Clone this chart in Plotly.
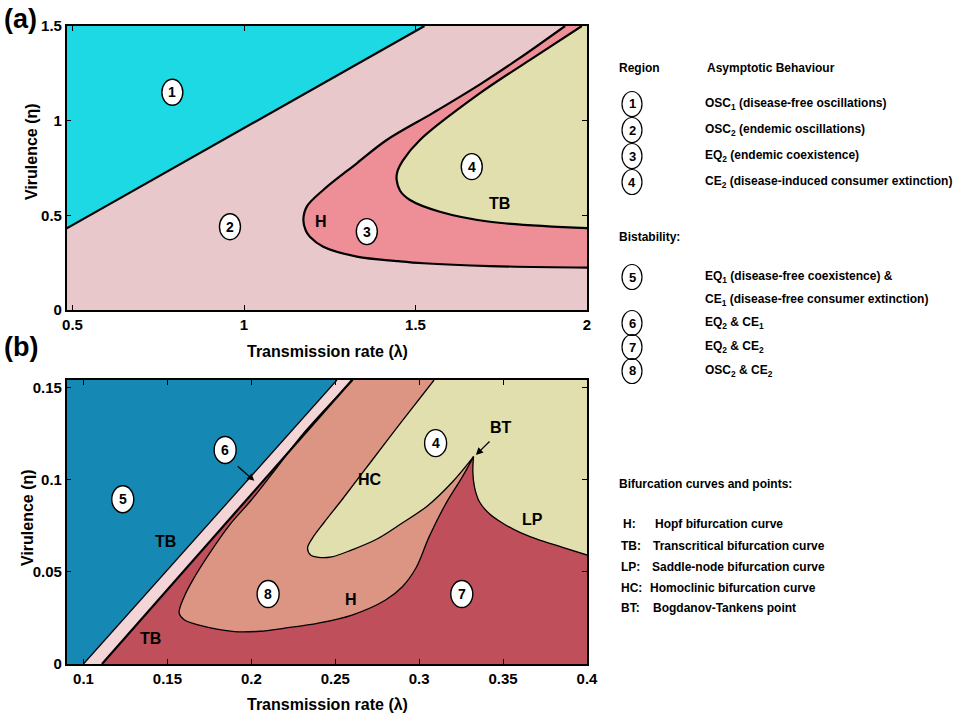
import plotly.graph_objects as go

W, H = 960, 720
SANS = "Liberation Sans, Arial, Helvetica, sans-serif"

# ---------------- panel (a) data ----------------
a_x_range = [0.483, 2.0]
a_y_range = [0.0, 1.5]
a_xticks = [0.5, 1, 1.5, 2]
a_xtick_text = ["0.5", "1", "1.5", "2"]
a_yticks = [0, 0.5, 1, 1.5]
a_ytick_text = ["0", "0.5", "1", "1.5"]

# TB line separating region 1 and 2
a_tb1_lam = [0.483, 1.526]
a_tb1_eta = [0.431, 1.5]
# Hopf curve (outer C-shaped curve)
a_hopf_lam = [1.936, 1.80, 1.688, 1.55, 1.416, 1.329, 1.231, 1.183, 1.173, 1.180,
              1.192, 1.231, 1.329, 1.45, 1.523, 1.717, 2.0]
a_hopf_eta = [1.5, 1.326, 1.192, 1.040, 0.898, 0.775, 0.634, 0.546, 0.475, 0.42,
              0.387, 0.334, 0.282, 0.258, 0.247, 0.232, 0.224]
# TB curve (inner curve)
a_tb2_lam = [1.985, 1.834, 1.688, 1.513, 1.464, 1.447, 1.445, 1.455, 1.484, 1.571, 1.717, 2.0]
a_tb2_eta = [1.5, 1.321, 1.145, 0.898, 0.792, 0.73, 0.687, 0.63, 0.581, 0.519, 0.466, 0.432]

a_region_ids = ["1", "2", "3", "4"]
a_region_lam = [0.791, 0.959, 1.358, 1.664]
a_region_eta = [1.150, 0.440, 0.414, 0.757]
a_curve_labels = ["H", "TB"]
a_curve_label_lam = [1.224, 1.744]
a_curve_label_eta = [0.466, 0.560]

# ---------------- panel (b) data ----------------
b_x_range = [0.09, 0.4]
b_y_range = [0.0, 0.1543]
b_xticks = [0.1, 0.15, 0.2, 0.25, 0.3, 0.35, 0.4]
b_xtick_text = ["0.1", "0.15", "0.2", "0.25", "0.3", "0.35", "0.4"]
b_yticks = [0, 0.05, 0.1, 0.15]
b_ytick_text = ["0", "0.05", "0.1", "0.15"]

b_tb1_lam = [0.100, 0.251]
b_tb1_eta = [0.0, 0.1543]
b_tb2_lam = [0.111, 0.260]
b_tb2_eta = [0.0, 0.1543]
# Hopf curve: from top (along TB) down to nose, then lower branch to BT point
b_hopf_lam = [0.2605, 0.232, 0.215, 0.200, 0.187, 0.175, 0.166, 0.160, 0.157,
              0.160, 0.170, 0.190, 0.205, 0.220, 0.240, 0.260, 0.280, 0.290,
              0.298, 0.306, 0.316, 0.3258, 0.3324]
b_hopf_eta = [0.1543, 0.1263, 0.1065, 0.0891, 0.0755, 0.060, 0.047, 0.0366, 0.0276,
              0.0240, 0.0208, 0.0176, 0.0178, 0.0195, 0.0222, 0.0266, 0.0348, 0.0420,
              0.0520, 0.0692, 0.0873, 0.1018, 0.1127]
# Homoclinic curve: from top down to tip, then up to BT
b_hc_lam = [0.3089, 0.2899, 0.2707, 0.2539, 0.2431, 0.2365, 0.2335, 0.2353, 0.2401,
            0.2479, 0.2599, 0.2749, 0.2899, 0.3049, 0.3198, 0.3324]
b_hc_eta = [0.1543, 0.1321, 0.1092, 0.0891, 0.0766, 0.0685, 0.0630, 0.0592, 0.0579,
            0.0582, 0.0620, 0.0679, 0.0766, 0.0859, 0.0989, 0.1127]
# Saddle-node (LP) curve: from BT to the right edge
b_lp_lam = [0.3324, 0.3320, 0.3330, 0.3360, 0.3420, 0.3498, 0.3600, 0.3698, 0.3850, 0.400]
b_lp_eta = [0.1127, 0.1040, 0.0960, 0.0880, 0.0815, 0.0765, 0.0715, 0.0680, 0.0635, 0.0592]

b_region_ids = ["5", "6", "4", "8", "7"]
b_region_lam = [0.1234, 0.1844, 0.3098, 0.2100, 0.3254]
b_region_eta = [0.0895, 0.1163, 0.1200, 0.0380, 0.0380]
b_curve_labels = ["TB", "TB", "HC", "H", "LP", "BT"]
b_curve_label_lam = [0.149, 0.140, 0.2709, 0.2595, 0.3678, 0.3486]
b_curve_label_eta = [0.0665, 0.0140, 0.1000, 0.0351, 0.0783, 0.1283]
# arrows: tail -> head
b_arrow_tail_lam = [0.1910, 0.3428]
b_arrow_tail_eta = [0.1082, 0.1217]
b_arrow_head_lam = [0.2018, 0.3338]
b_arrow_head_eta = [0.0995, 0.1136]

# ---------------- legend text ----------------
legend_regions = ["1", "2", "3", "4"]
legend_region_text = [
    "OSC<sub>1</sub> (disease-free oscillations)",
    "OSC<sub>2</sub> (endemic oscillations)",
    "EQ<sub>2</sub> (endemic coexistence)",
    "CE<sub>2</sub> (disease-induced consumer extinction)",
]
legend_bistab = ["5", "", "6", "7", "8"]
legend_bistab_text = [
    "EQ<sub>1</sub> (disease-free coexistence) &",
    "CE<sub>1</sub> (disease-free consumer extinction)",
    "EQ<sub>2</sub> & CE<sub>1</sub>",
    "EQ<sub>2</sub> & CE<sub>2</sub>",
    "OSC<sub>2</sub> & CE<sub>2</sub>",
]
bif_keys = ["H:", "TB:", "LP:", "HC:", "BT:"]
bif_text = ["Hopf bifurcation curve", "Transcritical bifurcation curve",
            "Saddle-node bifurcation curve", "Homoclinic bifurcation curve",
            "Bogdanov-Tankens point"]

# ---------------- colours ----------------
C_CYAN = "#1CD9E4"
C_PINK2 = "#E8C8CB"
C_R3 = "#EE8E97"
C_KHAKI = "#E0DFAD"
C_BLUE = "#1589B3"
C_STRIP = "#F3D5D8"
C_RED = "#BF4F5A"
C_SALMON = "#DC9483"

fig = go.Figure()


def poly(x, y, color, xa, ya):
    fig.add_trace(go.Scatter(x=x, y=y, mode="lines", fill="toself", fillcolor=color,
                             line=dict(width=0), xaxis=xa, yaxis=ya,
                             hoverinfo="skip", showlegend=False))


def region(edge_x, edge_y, cx, cy, color, xa, ya):
    # invisible straight edge, then the smooth curve filled towards it
    fig.add_trace(go.Scatter(x=edge_x, y=edge_y, mode="lines", line=dict(width=0),
                             xaxis=xa, yaxis=ya, hoverinfo="skip", showlegend=False))
    fig.add_trace(go.Scatter(x=cx, y=cy, mode="lines", fill="tonextx", fillcolor=color,
                             line=dict(width=0, shape="spline", smoothing=1.0),
                             xaxis=xa, yaxis=ya, hoverinfo="skip", showlegend=False))


def curve(x, y, xa, ya, w, spline=True):
    fig.add_trace(go.Scatter(x=x, y=y, mode="lines",
                             line=dict(color="black", width=w,
                                       shape="spline" if spline else "linear", smoothing=1.0),
                             xaxis=xa, yaxis=ya, hoverinfo="skip", showlegend=False))


# ---- panel (a)
poly(a_tb1_lam + [a_x_range[0]], a_tb1_eta + [a_y_range[1]], C_CYAN, "x", "y")
region([a_x_range[1], a_x_range[1]], [a_y_range[1], a_hopf_eta[-1]],
       a_hopf_lam, a_hopf_eta, C_R3, "x", "y")
region([a_x_range[1], a_x_range[1]], [a_y_range[1], a_tb2_eta[-1]],
       a_tb2_lam, a_tb2_eta, C_KHAKI, "x", "y")
curve(a_tb1_lam, a_tb1_eta, "x", "y", 2.2, spline=False)
curve(a_hopf_lam, a_hopf_eta, "x", "y", 2.2)
curve(a_tb2_lam, a_tb2_eta, "x", "y", 2.2)

# ---- panel (b)
poly([b_x_range[0], b_tb1_lam[0], b_tb1_lam[1], b_x_range[0]],
     [b_y_range[0], b_tb1_eta[0], b_tb1_eta[1], b_y_range[1]], C_BLUE, "x2", "y2")
poly(b_tb1_lam + b_tb2_lam[::-1], b_tb1_eta + b_tb2_eta[::-1], C_STRIP, "x2", "y2")
poly(b_tb2_lam + [b_x_range[1], b_x_range[1]], b_tb2_eta + [b_y_range[1], b_y_range[0]],
     C_RED, "x2", "y2")
region([b_hopf_lam[0], b_hopf_lam[-1]], [b_y_range[1], b_y_range[1]],
       b_hopf_lam, b_hopf_eta, C_SALMON, "x2", "y2")
region([b_hc_lam[0], b_x_range[1]], [b_y_range[1], b_y_range[1]],
       b_hc_lam, b_hc_eta, C_KHAKI, "x2", "y2")
region([b_lp_lam[0], b_x_range[1]], [b_y_range[1], b_y_range[1]],
       b_lp_lam, b_lp_eta, C_KHAKI, "x2", "y2")
curve(b_tb1_lam, b_tb1_eta, "x2", "y2", 1.3, spline=False)
curve(b_tb2_lam, b_tb2_eta, "x2", "y2", 2.2, spline=False)
curve(b_hopf_lam, b_hopf_eta, "x2", "y2", 1.3)
curve(b_hc_lam, b_hc_eta, "x2", "y2", 1.3)
curve(b_lp_lam, b_lp_eta, "x2", "y2", 1.3)

shapes = []
annotations = []


def circ_label(xv, yv, txt_, xref, yref, hw=10.5, hh=13, fsize=14):
    shapes.append(dict(type="circle", xref=xref, yref=yref, xsizemode="pixel", ysizemode="pixel",
                       xanchor=xv, yanchor=yv, x0=-hw, x1=hw, y0=-hh, y1=hh,
                       fillcolor="white", line=dict(color="black", width=1.4), layer="above"))
    annotations.append(dict(x=xv, y=yv, xref=xref, yref=yref, text=txt_, showarrow=False,
                            font=dict(family=SANS, size=fsize, color="black", weight="bold"),
                            xanchor="center", yanchor="middle"))


for t, xv, yv in zip(a_region_ids, a_region_lam, a_region_eta):
    circ_label(xv, yv, t, "x", "y")
for t, xv, yv in zip(b_region_ids, b_region_lam, b_region_eta):
    circ_label(xv, yv, t, "x2", "y2", hw=11, hh=13.5)

for t, xv, yv in zip(a_curve_labels, a_curve_label_lam, a_curve_label_eta):
    annotations.append(dict(x=xv, y=yv, xref="x", yref="y", text=t, showarrow=False,
                            font=dict(family=SANS, size=16, color="black", weight="bold")))
for t, xv, yv in zip(b_curve_labels, b_curve_label_lam, b_curve_label_eta):
    annotations.append(dict(x=xv, y=yv, xref="x2", yref="y2", text=t, showarrow=False,
                            font=dict(family=SANS, size=16, color="black", weight="bold")))
for tl, te, hl, he in zip(b_arrow_tail_lam, b_arrow_tail_eta, b_arrow_head_lam, b_arrow_head_eta):
    annotations.append(dict(x=hl, y=he, xref="x2", yref="y2", ax=tl, ay=te,
                            axref="x2", ayref="y2", text="", showarrow=True,
                            arrowhead=2, arrowsize=1.1, arrowwidth=1.3, arrowcolor="black"))


def px(xp):
    return xp / W


def py(yp):
    return 1 - yp / H


def txt(xp, yp, t, size=12, bold=True, anchor="left", angle=0):
    annotations.append(dict(x=px(xp), y=py(yp), xref="paper", yref="paper", text=t,
                            showarrow=False, xanchor=anchor, yanchor="middle", textangle=angle,
                            font=dict(family=SANS, size=size, color="black",
                                      weight="bold" if bold else "normal")))


# panel letters
txt(2, 19, "(a)", size=27)
txt(2, 347, "(b)", size=27)

# axis titles
txt(327, 351, "Transmission rate (λ)", size=16, anchor="center")
txt(327, 704, "Transmission rate (λ)", size=16, anchor="center")
txt(31, 152, "Virulence (η)", size=16, anchor="center", angle=-90)
txt(27, 518, "Virulence (η)", size=16, anchor="center", angle=-90)

# legend
txt(617, 68, "Region")
txt(705, 68, "Asymptotic Behaviour")
leg_y1 = [104, 130, 156, 182]
for t, d, yy in zip(legend_regions, legend_region_text, leg_y1):
    shapes.append(dict(type="circle", xref="paper", yref="paper", xsizemode="pixel",
                       ysizemode="pixel", xanchor=px(632), yanchor=py(yy), x0=-10, x1=10,
                       y0=-12.5, y1=12.5, line=dict(color="black", width=1.2)))
    txt(632, yy, t, size=13, anchor="center")
    txt(703, yy, d)
txt(617, 237, "Bistability:")
leg_y2 = [277, 300, 323, 347, 371]
for t, d, yy in zip(legend_bistab, legend_bistab_text, leg_y2):
    if t:
        shapes.append(dict(type="circle", xref="paper", yref="paper", xsizemode="pixel",
                           ysizemode="pixel", xanchor=px(632), yanchor=py(yy), x0=-10, x1=10,
                           y0=-12.5, y1=12.5, line=dict(color="black", width=1.2)))
        txt(632, yy, t, size=13, anchor="center")
    txt(703, yy, d)
txt(617, 484, "Bifurcation curves and points:")
leg_y3 = [524, 546, 567, 588, 608]
key_x = [621, 619, 619, 619, 619]
desc_x = [653, 651, 650, 648, 651]
for k, d, yy, kx, dx in zip(bif_keys, bif_text, leg_y3, key_x, desc_x):
    txt(kx, yy, k)
    txt(dx, yy, d)

axis_common = dict(showgrid=False, zeroline=False, showline=True, linecolor="black",
                   linewidth=1.5, mirror="ticks", ticks="inside", ticklen=5, tickwidth=1,
                   tickcolor="black", automargin=False,
                   tickfont=dict(family=SANS, size=15, color="black", weight="bold"))

x0d, x1d = 66.7 / W, 587 / W
fig.update_layout(
    template="none",
    width=W, height=H, margin=dict(l=0, r=0, t=0, b=0, pad=0),
    paper_bgcolor="white", plot_bgcolor=C_PINK2,
    xaxis=dict(domain=[x0d, x1d], range=a_x_range, anchor="y", tickvals=a_xticks,
               ticktext=a_xtick_text, **axis_common),
    yaxis=dict(domain=[py(310), py(26)], range=a_y_range, anchor="x", tickvals=a_yticks,
               ticktext=a_ytick_text, **axis_common),
    xaxis2=dict(domain=[x0d, x1d], range=b_x_range, anchor="y2", tickvals=b_xticks,
                ticktext=b_xtick_text, **axis_common),
    yaxis2=dict(domain=[py(664), py(380)], range=b_y_range, anchor="x2", tickvals=b_yticks,
                ticktext=b_ytick_text, **axis_common),
    shapes=shapes, annotations=annotations, showlegend=False,
)

fig.write_html("out.html", config={"displayModeBar": False},
               post_script="document.body.style.margin='0px';document.body.style.overflow='hidden';")
